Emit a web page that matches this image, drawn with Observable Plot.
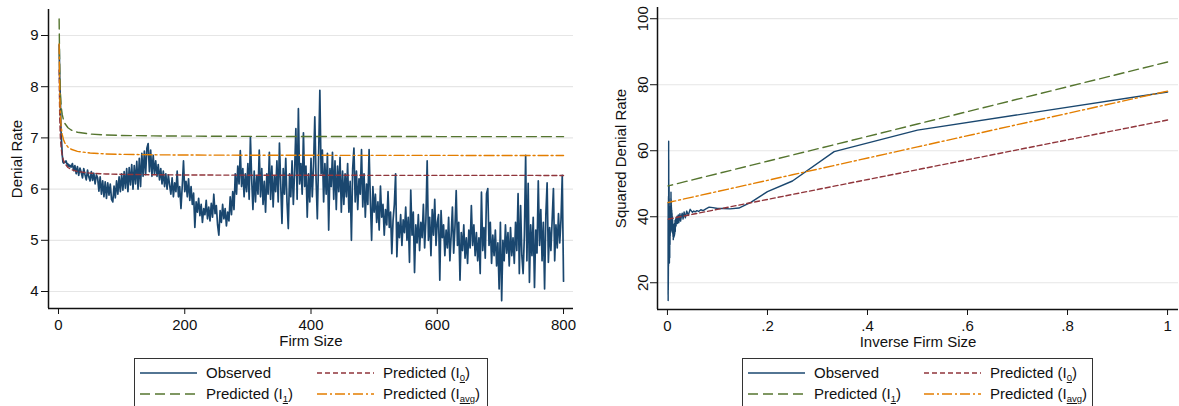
<!DOCTYPE html>
<html><head><meta charset="utf-8">
<script src="https://cdn.jsdelivr.net/npm/d3@7"></script>
<script src="https://cdn.jsdelivr.net/npm/@observablehq/plot@0.6"></script>
<style>
body{margin:0;background:#fff;font-family:'Liberation Sans',Arial,sans-serif;}
#wrap{display:flex;width:1179px;height:406px;overflow:hidden;background:#fff}
.panel{position:relative;height:406px}
.legend{position:absolute;top:358px;box-sizing:border-box;border:1px solid #333;padding:3px 0 6px 5px;display:grid;background:#fff}
.item{display:flex;align-items:center;height:21px;font-size:15px;color:#111;white-space:nowrap}
.item svg{margin-right:9px;flex:none}
sub{font-size:9.5px;vertical-align:-3px;text-decoration:underline;line-height:0}
</style></head>
<body>
<div id="wrap">
  <div class="panel" id="leftPanel" style="width:590px"></div>
  <div class="panel" id="rightPanel" style="width:589px"></div>
</div>
<script>
// ---------- DATA ----------
// Observed denial rate, firm sizes 1..20
const rateFine = [8.82, 8.14, 7.73, 7.13, 6.90, 6.66, 6.53, 6.51, 6.52, 6.52, 6.54, 6.55, 6.51, 6.47, 6.49, 6.45, 6.47, 6.44, 6.46, 6.43];
// Observed denial rate, firm sizes 22..800 (every 2)
const rateCoarse = [
  // 22-60
  6.50, 6.36, 6.46, 6.30, 6.44, 6.27, 6.41, 6.33, 6.22, 6.40, 6.28, 6.18, 6.37, 6.24, 6.16, 6.34, 6.17, 6.31, 6.10, 6.28,
  // 62-100
  6.22, 5.96, 6.24, 5.90, 6.16, 5.85, 6.14, 5.82, 6.12, 5.88, 6.10, 5.80, 5.75, 6.06, 5.83, 6.16, 5.90, 6.24, 5.95, 6.30,
  // 102-150
  5.98, 6.34, 6.02, 6.40, 5.95, 6.42, 6.08, 6.48, 6.00, 6.46, 6.10, 6.54, 6.00, 6.60, 6.05, 6.70, 6.25, 6.74, 6.28, 6.80, 6.89, 6.34, 6.76, 6.25, 6.66,
  // 152-200
  6.30, 6.55, 6.25, 6.48, 6.18, 6.40, 6.10, 6.35, 6.05, 6.30, 6.00, 6.28, 6.08, 5.90, 6.22, 5.85, 6.12, 5.95, 6.35, 5.85, 6.05, 5.62, 6.05, 6.55, 5.95,
  // 202-250
  6.15, 5.85, 6.20, 5.78, 6.05, 5.70, 5.92, 5.25, 5.75, 5.55, 5.82, 5.48, 5.70, 5.35, 5.62, 5.50, 5.78, 5.42, 5.65, 5.38, 5.72, 5.45, 5.90, 5.52, 5.68,
  // 252-300
  5.30, 5.10, 5.58, 5.35, 5.70, 5.42, 5.62, 5.28, 5.55, 5.38, 5.85, 5.50, 5.95, 5.60, 6.30, 5.90, 6.45, 6.10, 6.75, 6.05, 6.40, 5.85, 6.30, 5.95, 6.50,
  // 302-350
  5.80, 7.02, 6.20, 5.60, 6.35, 5.75, 6.25, 5.90, 6.76, 5.85, 6.40, 5.70, 6.15, 5.55, 6.30, 5.90, 6.72, 5.80, 6.45, 5.65, 6.25, 5.95, 6.55, 5.75, 6.90,
  // 352-400
  6.10, 5.33, 6.40, 5.90, 6.60, 5.75, 5.23, 6.30, 5.85, 6.55, 5.70, 6.35, 7.18, 5.80, 7.57, 6.10, 6.50, 5.90, 7.10, 6.05, 6.45, 5.45, 6.30, 5.75, 6.60,
  // 402-450
  5.85, 6.45, 7.41, 6.20, 5.42, 6.60, 7.93, 6.30, 6.76, 5.75, 6.50, 5.90, 6.70, 5.20, 6.40, 6.05, 6.72, 5.80, 6.55, 5.60, 6.45, 5.95, 6.62, 5.55, 6.35,
  // 452-500
  5.70, 6.30, 5.85, 6.50, 5.55, 6.15, 5.00, 6.40, 6.80, 5.75, 6.35, 5.60, 6.20, 5.90, 6.77, 5.65, 6.30, 5.45, 6.10, 5.70, 6.77, 5.80, 5.00, 6.05, 5.55,
  // 502-550
  5.90, 5.35, 5.75, 5.20, 6.06, 5.45, 5.70, 5.10, 5.60, 5.30, 5.95, 5.25, 5.55, 4.74, 5.40, 5.70, 6.30, 4.68, 5.35, 5.05, 5.50, 4.90, 5.40, 5.15, 5.65,
  // 552-600
  5.00, 5.45, 4.57, 5.98, 5.10, 5.55, 4.37, 5.30, 4.95, 5.50, 4.80, 5.35, 5.05, 5.70, 4.85, 5.40, 6.55, 5.00, 5.45, 4.70, 5.60, 5.10, 5.80, 4.90, 5.35,
  // 602-650
  5.50, 4.22, 5.58, 5.05, 5.30, 4.70, 5.20, 4.85, 5.45, 4.60, 5.10, 5.65, 4.75, 5.25, 5.97, 4.90, 5.35, 4.22, 5.15, 4.80, 5.30, 4.65, 5.05, 4.55, 5.20,
  // 652-700
  4.85, 5.68, 4.90, 5.30, 4.70, 5.15, 4.60, 5.05, 4.35, 5.94, 4.80, 5.25, 4.65, 5.91, 6.01, 4.90, 5.35, 4.55, 5.10, 4.70, 5.20, 4.50, 4.95, 4.05, 5.35,
  // 702-750
  3.82, 5.00, 4.60, 5.30, 4.75, 5.15, 4.50, 5.25, 4.70, 5.05, 4.55, 5.35, 4.80, 5.91, 4.35, 5.68, 4.70, 4.35, 5.10, 6.66, 4.60, 6.11, 4.18, 5.30, 4.70,
  // 752-800
  5.45, 4.08, 5.20, 4.75, 6.16, 4.90, 5.60, 4.60, 5.35, 4.05, 5.50, 6.12, 4.57, 5.25, 4.80, 5.40, 6.01, 4.60, 5.30, 4.85, 5.52, 4.95, 5.40, 6.27, 4.20
];
// Predicted denial rates at selected firm sizes
const predSize = [1, 2, 3, 4, 5, 6, 8, 10, 15, 20, 30, 50, 75, 100, 150, 200, 300, 400, 600, 800];
const predI0   = [8.325, 7.367, 7.019, 6.838, 6.727, 6.652, 6.557, 6.500, 6.422, 6.383, 6.344, 6.312, 6.296, 6.288, 6.280, 6.276, 6.272, 6.270, 6.268, 6.267];
const predI1   = [9.322, 8.252, 7.863, 7.662, 7.538, 7.454, 7.348, 7.284, 7.198, 7.154, 7.110, 7.075, 7.057, 7.048, 7.039, 7.035, 7.030, 7.028, 7.026, 7.025];
const predIavg = [8.836, 7.821, 7.452, 7.261, 7.144, 7.064, 6.964, 6.903, 6.821, 6.779, 6.738, 6.704, 6.687, 6.679, 6.670, 6.666, 6.662, 6.660, 6.658, 6.657];

const leftXTicks = [0, 200, 400, 600, 800];
const leftYTicks = [4, 5, 6, 7, 8, 9];
const leftYLabels = ["4", "5", "6", "7", "8", "9"];
const rightXTicks = [0, 0.2, 0.4, 0.6, 0.8, 1];
const rightXLabels = ["0", ".2", ".4", ".6", ".8", "1"];
const rightYTicks = [20, 40, 60, 80, 100];
const rightYLabels = ["20", "40", "60", "80", "100"];

const seriesNames = ["Observed", "Predicted (I<sub>0</sub>)", "Predicted (I<sub>1</sub>)", "Predicted (I<sub>avg</sub>)"];
const seriesKeys = ["obs", "i0", "i1", "iavg"];
const seriesColors = {obs: "#1a476f", i0: "#90353b", i1: "#55752f", iavg: "#e37e00"};
const seriesDash = {obs: null, i0: "5,3", i1: "10,5", iavg: "10,3,2,3"};

// ---------- build tables ----------
const firmSize = [...d3.range(1, 21), ...d3.range(22, 801, 2)];
const rates = [...rateFine, ...rateCoarse];
const observed = firmSize.map((n, i) => ({n, rate: rates[i], inv: 1 / n, sq: rates[i] * rates[i]}));
const predicted = [];
for (const [key, arr] of [["i0", predI0], ["i1", predI1], ["iavg", predIavg]]) {
  predSize.forEach((n, i) => predicted.push({key, n, rate: arr[i], inv: 1 / n, sq: arr[i] * arr[i]}));
}

const font = "'Liberation Sans', Arial, sans-serif";
const ink = "#111";

function predLines(xk, yk, w) {
  return ["i0", "i1", "iavg"].map(k => Plot.line(predicted.filter(d => d.key === k), {
    x: xk, y: yk, stroke: seriesColors[k], strokeWidth: w, strokeDasharray: seriesDash[k]
  }));
}

// ---------- left panel ----------
const lxd = [-15.84, 815.8], lyd = [3.668, 9.508];
const left = Plot.plot({
  width: 590, height: 352,
  marginLeft: 48, marginRight: 17, marginTop: 9, marginBottom: 44,
  style: {fontFamily: font, fontSize: "15px", color: ink, background: "#fff", overflow: "visible"},
  x: {domain: lxd},
  y: {domain: lyd},
  marks: [
    Plot.gridY(leftYTicks, {stroke: "#e6e6e6", strokeOpacity: 1, strokeWidth: 1.2}),
    Plot.line(observed, {x: "n", y: "rate", stroke: seriesColors.obs, strokeWidth: 1.7}),
    ...predLines("n", "rate", 1.4),
    Plot.ruleX([lxd[0]], {stroke: ink, strokeWidth: 1.5}),
    Plot.ruleY([lyd[0]], {stroke: ink, strokeWidth: 1.5}),
    Plot.axisY(leftYTicks, {tickSize: 7, tickPadding: 3, label: null, stroke: ink, fill: ink, fontSize: 15,
      tickFormat: (d, i) => leftYLabels[i]}),
    Plot.axisX(leftXTicks, {tickSize: 6, tickPadding: 5, label: null, stroke: ink, fill: ink, fontSize: 15}),
    Plot.text(["Firm Size"], {frameAnchor: "bottom", dy: 33, lineAnchor: "middle", textAnchor: "middle", fontSize: 15, fill: ink}),
    Plot.text(["Denial Rate"], {frameAnchor: "left", dx: -31, rotate: -90, lineAnchor: "middle", textAnchor: "middle", fontSize: 15, fill: ink})
  ]
});
document.getElementById("leftPanel").append(left);

// ---------- right panel ----------
const rxd = [-0.0199, 1.0219], ryd = [11.9, 103.4];
const right = Plot.plot({
  width: 589, height: 352,
  marginLeft: 67, marginRight: 1, marginTop: 7, marginBottom: 43,
  style: {fontFamily: font, fontSize: "15px", color: ink, background: "#fff", overflow: "visible"},
  x: {domain: rxd},
  y: {domain: ryd},
  marks: [
    Plot.gridY(rightYTicks, {stroke: "#e6e6e6", strokeOpacity: 1, strokeWidth: 1.2}),
    Plot.line(observed, {x: "inv", y: "sq", stroke: seriesColors.obs, strokeWidth: 1.4}),
    ...predLines("inv", "sq", 1.4),
    Plot.ruleX([rxd[0]], {stroke: ink, strokeWidth: 1.5}),
    Plot.ruleY([ryd[0]], {stroke: ink, strokeWidth: 1.5}),
    Plot.axisY(rightYTicks, {tickSize: 7, tickRotate: -90, label: null, stroke: ink, fill: ink, fontSize: 15,
      tickFormat: (d, i) => rightYLabels[i]}),
    Plot.axisX(rightXTicks, {tickSize: 6, tickPadding: 5, label: null, stroke: ink, fill: ink, fontSize: 15,
      tickFormat: (d, i) => rightXLabels[i]}),
    Plot.text(["Inverse Firm Size"], {frameAnchor: "bottom", dy: 33, lineAnchor: "middle", textAnchor: "middle", fontSize: 15, fill: ink}),
    Plot.text(["Squared Denial Rate"], {frameAnchor: "left", dx: -36, rotate: -90, lineAnchor: "middle", textAnchor: "middle", fontSize: 15, fill: ink})
  ]
});
document.getElementById("rightPanel").append(right);

// ---------- legends ----------
function legend(parent, leftPx, widthPx, col1) {
  const box = document.createElement("div");
  box.className = "legend";
  box.style.left = leftPx + "px";
  box.style.width = widthPx + "px";
  box.style.gridTemplateColumns = col1 + "px auto";
  seriesKeys.forEach((k, i) => {
    const item = document.createElement("div");
    item.className = "item";
    const dash = seriesDash[k] ? `stroke-dasharray="${seriesDash[k]}"` : "";
    item.innerHTML = `<svg width="57" height="6"><line x1="0" x2="57" y1="3" y2="3" stroke="${seriesColors[k]}" stroke-width="1.4" ${dash}/></svg><span>${seriesNames[i]}</span>`;
    box.append(item);
  });
  parent.append(box);
}
legend(document.getElementById("leftPanel"), 134, 354, 177);
legend(document.getElementById("rightPanel"), 152, 351, 176);
</script>
</body></html>
